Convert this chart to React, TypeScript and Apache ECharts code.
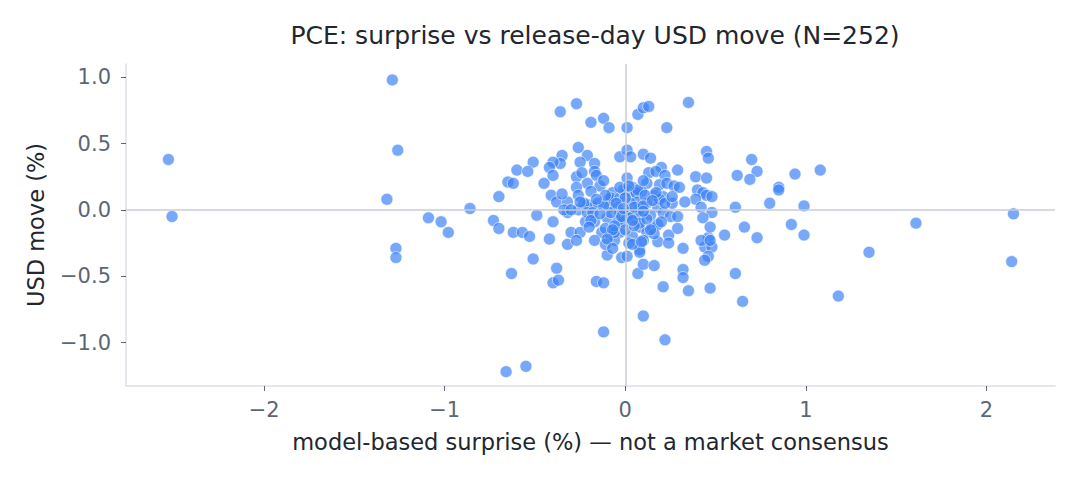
import { useEffect, useRef } from "react";
import * as echarts from "echarts";

// surprise (%) / USD move (%) pairs
const outlierPoints: [number, number][] = [
  [-2.53, 0.38], [-2.51, -0.05], [-1.29, 0.98], [-1.32, 0.08], [-1.26, 0.45],
  [-1.27, -0.29], [-1.27, -0.36], [-1.09, -0.06], [-1.02, -0.09], [-0.98, -0.17],
  [-0.86, 0.01], [-0.73, -0.08], [-0.7, -0.14], [-0.7, 0.1], [-0.65, 0.21],
  [-0.62, 0.2], [-0.6, 0.3], [-0.62, -0.17], [-0.63, -0.48], [-0.57, -0.17],
  [-0.66, -1.22], [-0.55, -1.18],
  [2.15, -0.03], [2.14, -0.39], [1.61, -0.1], [1.35, -0.32], [1.18, -0.65],
  [1.08, 0.3], [0.99, -0.19], [0.99, 0.03], [0.92, -0.11], [0.94, 0.27],
  [0.85, 0.17], [0.85, 0.15], [0.8, 0.05], [0.73, -0.21], [0.73, 0.29],
  [0.7, 0.38], [0.69, 0.23], [0.62, 0.26], [0.61, 0.02], [0.65, -0.69],
  [0.61, -0.48], [0.55, -0.19],
];

const upperPoints: [number, number][] = [
  [-0.36, 0.74], [-0.27, 0.8], [-0.19, 0.66], [-0.12, 0.69], [-0.09, 0.62],
  [0.01, 0.62], [0.07, 0.72], [0.1, 0.77], [0.13, 0.78], [0.23, 0.62],
  [0.35, 0.81], [-0.26, 0.47], [-0.21, 0.41], [-0.17, 0.35], [-0.25, 0.36],
  [-0.35, 0.41], [-0.36, 0.35], [-0.4, 0.36], [-0.42, 0.32], [-0.4, 0.26],
  [-0.51, 0.36], [-0.54, 0.29], [-0.45, 0.2], [-0.27, 0.25], [-0.17, 0.29],
  [-0.16, 0.26], [-0.21, 0.2], [-0.27, 0.17], [-0.14, 0.18], [-0.19, 0.14],
  [-0.26, 0.11], [-0.41, 0.11], [-0.38, 0.06], [-0.07, 0.13], [-0.09, 0.08],
  [-0.03, 0.4], [0.01, 0.45], [0.03, 0.4], [0.01, 0.24], [0.1, 0.42],
  [0.14, 0.39], [0.2, 0.32], [0.13, 0.28], [0.17, 0.29], [0.22, 0.26],
  [0.29, 0.3], [0.12, 0.2], [0.19, 0.19], [0.23, 0.2], [0.27, 0.18],
  [0.3, 0.17], [0.04, 0.17], [0.01, 0.15], [0.04, 0.11], [0.09, 0.14],
  [0.16, 0.11], [0.21, 0.1], [0.26, 0.05], [0.39, 0.25], [0.45, 0.24],
  [0.45, 0.44], [0.46, 0.39], [0.4, 0.15], [0.43, 0.13], [0.45, 0.11],
  [0.48, 0.1], [0.39, 0.08], [0.42, 0.02], [0.48, -0.02], [-0.49, -0.04],
];

const corePoints: [number, number][] = [
  [-0.32, 0.06], [-0.26, 0.0], [-0.21, 0.04], [-0.18, 0.02], [-0.15, 0.05],
  [-0.08, 0.09], [-0.03, 0.09], [-0.09, 0.02], [-0.04, 0.02], [0.06, 0.13],
  [0.07, 0.06], [0.12, 0.05], [0.18, 0.02], [0.03, 0.05], [0.07, 0.0],
  [0.02, -0.02], [-0.03, -0.02], [-0.32, -0.02], [-0.22, -0.09], [-0.17, -0.09],
  [-0.1, -0.06], [-0.04, -0.08], [0.01, -0.05], [0.08, -0.04], [0.14, -0.04],
  [0.21, -0.02], [0.25, -0.05], [-0.4, -0.09], [-0.3, -0.17], [-0.25, -0.17],
  [-0.13, -0.17], [-0.08, -0.19], [-0.03, -0.17], [0.04, -0.2], [0.08, -0.13],
  [0.12, -0.17], [0.18, -0.24], [0.24, -0.19], [0.29, -0.14], [0.32, -0.29],
  [-0.17, -0.23], [-0.06, -0.23], [-0.1, -0.34], [0.02, -0.25], [0.08, -0.3],
  [-0.42, -0.22], [-0.32, -0.26], [0.43, -0.06], [0.46, -0.21], [0.44, -0.28],
  [0.48, -0.28],
  [-0.24, 0.28], [-0.23, 0.05], [-0.11, -0.14], [-0.06, -0.17], [-0.34, 0.0],
  [-0.3, 0.0], [-0.21, -0.02], [-0.18, -0.02], [-0.08, -0.02], [-0.01, -0.09],
  [-0.19, -0.08], [-0.11, -0.26], [0.03, -0.06], [0.08, -0.1], [0.15, -0.14],
  [0.29, -0.05], [0.0, -0.15], [0.1, -0.23], [0.07, 0.15], [-0.01, 0.15],
  [0.0, 0.09], [-0.03, 0.17], [0.11, 0.11], [0.19, 0.08],
  [0.17, 0.13], [0.02, 0.18], [-0.12, 0.03], [-0.05, 0.05], [0.05, 0.02],
  [0.1, 0.03], [-0.14, -0.03], [0.12, -0.07], [-0.06, -0.12], [0.05, -0.12],
  [-0.11, 0.11], [0.15, 0.07], [-0.02, -0.05], [0.04, -0.08], [-0.16, 0.08],
  [0.22, 0.05], [-0.2, -0.13], [0.18, -0.11], [-0.01, 0.01], [0.1, -0.01],
  [-0.25, 0.06], [0.26, 0.1], [-0.07, -0.15], [0.16, -0.18], [-0.35, 0.12],
  [0.33, 0.06], [-0.12, 0.22], [0.1, 0.22],
];

const lowerPoints: [number, number][] = [
  [-0.53, -0.2], [-0.27, -0.23], [-0.1, -0.22], [-0.07, -0.29], [-0.02, -0.36],
  [0.01, -0.35], [-0.51, -0.37], [-0.38, -0.44], [-0.4, -0.55], [-0.37, -0.53],
  [-0.16, -0.54], [-0.12, -0.55], [0.07, -0.48], [0.1, -0.41], [0.16, -0.42],
  [0.08, -0.32], [0.04, -0.26], [0.09, -0.24], [0.14, -0.15], [0.24, -0.25],
  [0.2, -0.09], [0.32, -0.45], [0.32, -0.51], [0.21, -0.58], [0.35, -0.61],
  [0.47, -0.59], [0.1, -0.8], [-0.12, -0.92], [0.22, -0.98], [0.47, -0.13],
  [0.42, -0.23], [0.47, -0.23], [0.46, -0.35], [0.44, -0.38], [0.66, -0.13],
];

const xTicks = [-2, -1, 0, 1, 2];
const yTicks = [-1, -0.5, 0, 0.5, 1];

const TITLE = "PCE: surprise vs release-day USD move (N=252)";
const X_NAME = "model-based surprise (%) — not a market consensus";
const Y_NAME = "USD move (%)";

const FONT = "DejaVu Sans";
const TEXT = "#22262e";
const TICK = "#5c6676";
const SPINE = "#dcdfe6";
const ZERO = "#c9cdd6";

const minus = (s: string) => s.replace("-", "\u2212");

export default function App() {
  const ref = useRef<HTMLDivElement | null>(null);

  useEffect(() => {
    const el = ref.current;
    if (!el) return;
    const chart = echarts.init(el, undefined, { renderer: "svg" });
    const points = [...outlierPoints, ...upperPoints, ...corePoints, ...lowerPoints];

    chart.setOption({
      animation: false,
      textStyle: { fontFamily: FONT },
      title: {
        text: TITLE,
        left: 590,
        top: 18,
        textAlign: "center",
        textStyle: { fontFamily: FONT, fontSize: 25, fontWeight: "normal", color: TEXT },
      },
      grid: { left: 126, right: 25, top: 64, bottom: 94 },
      xAxis: {
        type: "value",
        min: -2.765,
        max: 2.38,
        name: X_NAME,
        nameLocation: "middle",
        nameGap: 44,
        nameTextStyle: { fontFamily: FONT, fontSize: 22.5, color: TEXT },
        splitLine: { show: false },
        axisLine: { show: true, onZero: false, lineStyle: { color: SPINE, width: 1.5 } },
        axisTick: { show: true, length: 5, customValues: xTicks, lineStyle: { color: TICK } },
        axisLabel: {
          customValues: xTicks,
          fontSize: 21,
          color: TICK,
          margin: 13,
          formatter: (v: number) => minus(String(v)),
        },
      },
      yAxis: {
        type: "value",
        min: -1.328,
        max: 1.1,
        name: Y_NAME,
        nameLocation: "middle",
        nameGap: 79,
        nameTextStyle: { fontFamily: FONT, fontSize: 22.5, color: TEXT },
        splitLine: { show: false },
        axisLine: { show: true, onZero: false, lineStyle: { color: SPINE, width: 1.5 } },
        axisTick: { show: true, length: 5, customValues: yTicks, lineStyle: { color: TICK } },
        axisLabel: {
          customValues: yTicks,
          fontSize: 21,
          color: TICK,
          margin: 15,
          formatter: (v: number) => minus(v.toFixed(1)),
        },
      },
      series: [
        {
          type: "scatter",
          data: [],
          silent: true,
          z: 1,
          markLine: {
            silent: true,
            symbol: "none",
            label: { show: false },
            lineStyle: { color: ZERO, width: 1.5, type: "solid" },
            data: [{ xAxis: 0 }, { yAxis: 0 }],
          },
        },
        {
          type: "scatter",
          z: 3,
          data: points,
          symbolSize: 12,
          itemStyle: {
            color: "rgba(59,130,246,0.87)",
            borderColor: "rgba(255,255,255,0.9)",
            borderWidth: 0.8,
          },
        },
      ],
    });

    return () => chart.dispose();
  }, []);

  return <div ref={ref} style={{ width: 1080, height: 480, margin: -8 }} />;
}
